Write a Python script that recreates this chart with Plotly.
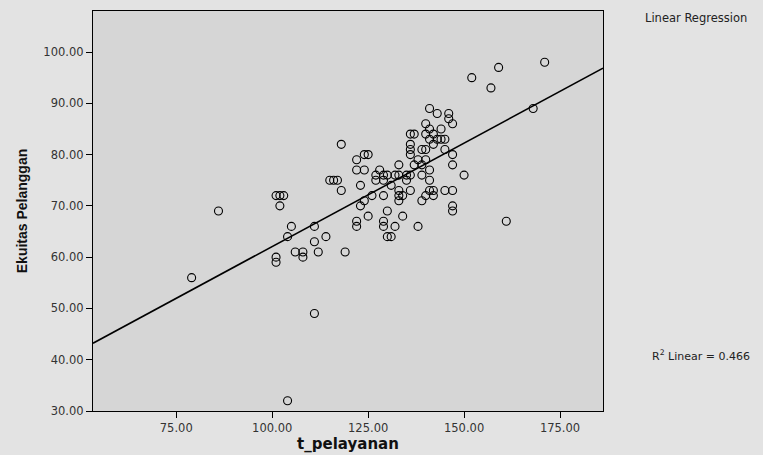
import numpy as np
import plotly.graph_objects as go

# t_pelayanan (x) and Ekuitas Pelanggan (y)
t_pelayanan = [
    171, 159, 152, 157, 168, 141, 143, 146, 146, 147, 140, 141, 144,
    136, 137, 140, 142, 141, 143, 144, 145, 136, 139, 140, 142, 145, 136,
    136, 147, 125, 122, 124, 138, 140, 118, 133, 137, 139, 147,
    122, 124, 128, 141, 127, 129, 130, 132, 133, 135, 136, 139, 150,
    115, 116, 117, 127, 129, 135, 141, 123, 131, 118, 133, 136, 141, 142,
    145, 147, 101, 102, 103, 126, 129, 133, 134, 140, 142, 102,
    124, 133, 139, 123, 147, 147, 130, 86, 125, 134, 122, 122, 129, 129,
    132, 138, 161, 105, 111, 130, 131, 104, 114, 111, 106, 108, 112, 119,
    101, 101, 108, 79, 111, 104,
]
ekuitas_pelanggan = [
    98, 97, 95, 93, 89, 89, 88, 88, 87, 86, 86, 85, 85,
    84, 84, 84, 84, 83, 83, 83, 83, 82, 81, 81, 82, 81, 81,
    80, 80, 80, 79, 80, 79, 79, 82, 78, 78, 78, 78,
    77, 77, 77, 77, 76, 76, 76, 76, 76, 76, 76, 76, 76,
    75, 75, 75, 75, 75, 75, 75, 74, 74, 73, 73, 73, 73, 73,
    73, 73, 72, 72, 72, 72, 72, 72, 72, 72, 72, 70,
    71, 71, 71, 70, 70, 69, 69, 69, 68, 68, 67, 66, 67, 66,
    66, 66, 67, 66, 66, 64, 64, 64, 64, 63, 61, 61, 61, 61,
    60, 59, 60, 56, 49, 32,
]

x_ticks = [75, 100, 125, 150, 175]
y_ticks = [30, 40, 50, 60, 70, 80, 90, 100]
x_range = [53.3, 186.2]
y_range = [30, 108]
r2_text = "R<sup>2</sup> Linear = 0.466"

xa = np.array(t_pelayanan, dtype=float)
ya = np.array(ekuitas_pelanggan, dtype=float)
slope, intercept = np.polyfit(xa, ya, 1)
line_x = np.array(x_range)
line_y = intercept + slope * line_x

fig = go.Figure()
fig.add_trace(go.Scatter(
    x=line_x, y=line_y, mode="lines",
    line=dict(color="black", width=1.6), hoverinfo="skip", showlegend=False,
))
fig.add_trace(go.Scatter(
    x=t_pelayanan, y=ekuitas_pelanggan, mode="markers",
    marker=dict(symbol="circle-open", size=8, color="black",
                line=dict(width=1.1, color="black")),
    showlegend=False,
))

wide = "DejaVu Sans, Verdana, sans-serif"
arial = "Liberation Sans, Arial, sans-serif"
fig.update_layout(
    width=763, height=455,
    margin=dict(l=93, r=160, t=11, b=44, autoexpand=False),
    paper_bgcolor="#e3e3e3",
    plot_bgcolor="#d6d6d6",
    font=dict(family=wide, size=12, color="#222"),
    xaxis=dict(
        range=x_range, tickvals=x_ticks,
        ticktext=[f"{v:.2f}" for v in x_ticks],
        ticks="outside", ticklen=6, tickcolor="black",
        showgrid=False, zeroline=False, automargin=False,
        showline=True, linecolor="black", linewidth=1.2, mirror=True,
        tickfont=dict(family=wide, size=11.5, color="#333"),
        title=dict(text="<b>t_pelayanan</b>",
                   font=dict(family=wide, size=15, color="#111"), standoff=2),
    ),
    yaxis=dict(
        range=y_range, tickvals=y_ticks,
        ticktext=[f"{v:.2f}" for v in y_ticks],
        ticks="outside", ticklen=6, tickcolor="black",
        showgrid=False, zeroline=False, automargin=False,
        showline=True, linecolor="black", linewidth=1.2, mirror=True,
        tickfont=dict(family=wide, size=11.5, color="#333"),
        title=dict(text="<b>Ekuitas Pelanggan</b>",
                   font=dict(family=arial, size=14, color="#111"), standoff=12),
    ),
    annotations=[
        dict(text="Linear Regression", xref="paper", yref="paper",
             x=1.0, y=0.9825, xanchor="left", yanchor="middle", xshift=40,
             showarrow=False, font=dict(family=wide, size=11.5, color="#222")),
        dict(text=r2_text, xref="paper", yref="paper",
             x=1.0, y=0.14, xanchor="left", yanchor="middle", xshift=47,
             showarrow=False, font=dict(family=wide, size=11, color="#222")),
    ],
)

fig.write_html(
    "out.html",
    config={"displayModeBar": False},
    post_script="document.body.style.margin='0';document.body.style.overflow='hidden';",
)
